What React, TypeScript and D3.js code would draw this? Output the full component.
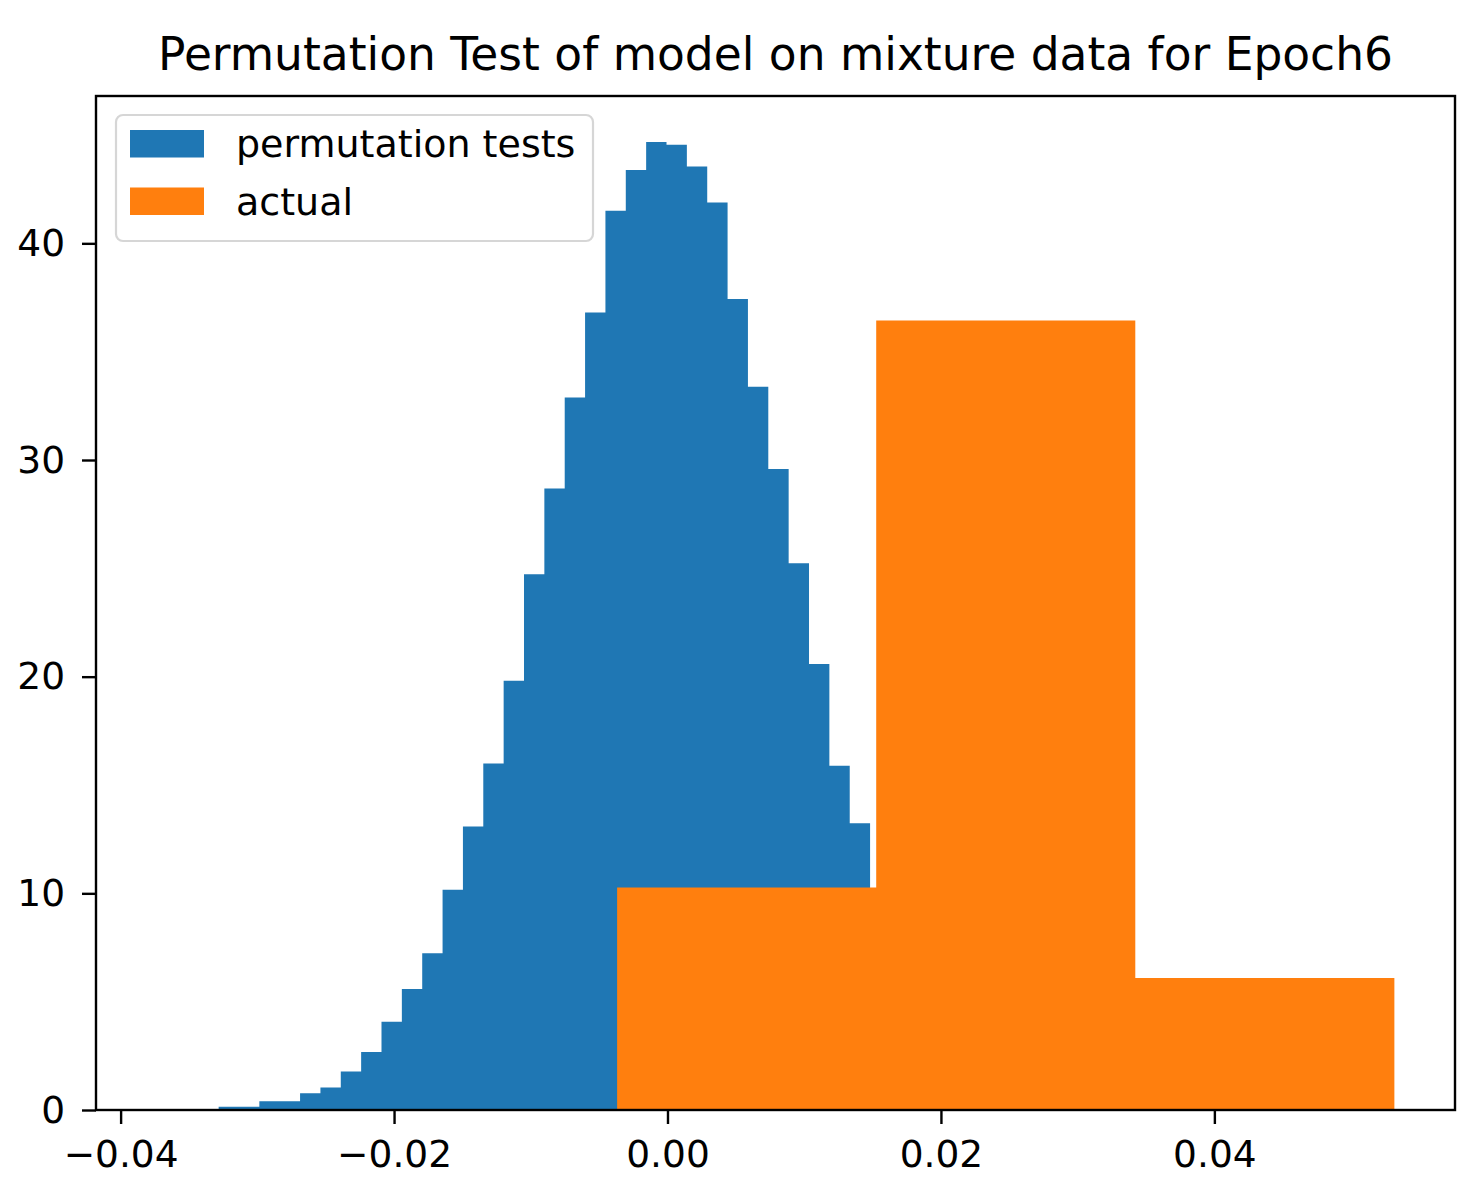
import React, { useEffect, useRef } from 'react';
import * as d3 from 'd3';

// histogram of the permutation test statistic (density)
const permBinStart = -0.03283;
const permBinWidth = 0.001489;
const permDensity = [
  0.15, 0.15, 0.4, 0.4, 0.77, 1.04, 1.78, 2.68, 4.07, 5.58, 7.24, 10.17,
  13.09, 15.99, 19.81, 24.73, 28.69, 32.88, 36.81, 41.5, 43.39, 44.68,
  44.55, 43.55, 41.88, 37.43, 33.38, 29.58, 25.24, 20.58, 15.89, 13.23,
];

// histogram of the actual values (density)
const actualBinStart = -0.003684;
const actualBinWidth = 0.01895;
const actualDensity = [10.27, 36.44, 6.09];

const xDomain = [-0.0418, 0.0576];
const yDomain = [0, 46.8];
const xTicks = [-0.04, -0.02, 0.0, 0.02, 0.04];
const yTicks = [0, 10, 20, 30, 40];

const seriesNames = ['permutation tests', 'actual'];
const seriesColors = ['#1f77b4', '#ff7f0e'];

const titleText = 'Permutation Test of model on mixture data for Epoch6';

function toBins(start: number, width: number, values: number[]) {
  return values.map((v, i) => ({ x0: start + i * width, x1: start + (i + 1) * width, v }));
}

export default function App() {
  const node = useRef<HTMLDivElement>(null);

  useEffect(() => {
    document.body.style.margin = '0';
    const width = 1457;
    const height = 1179;
    const margin = { top: 96, right: 2, bottom: 69, left: 96 };
    const font = 'DejaVu Sans, sans-serif';

    d3.select(node.current).selectAll('*').remove();
    const svg = d3.select(node.current).append('svg')
      .attr('width', width)
      .attr('height', height)
      .style('display', 'block')
      .style('background', '#fff');

    const x = d3.scaleLinear().domain(xDomain).range([margin.left, width - margin.right]);
    const y = d3.scaleLinear().domain(yDomain).range([height - margin.bottom, margin.top]);

    const hists = [
      toBins(permBinStart, permBinWidth, permDensity),
      toBins(actualBinStart, actualBinWidth, actualDensity),
    ];

    // one stepped outline per histogram, so no seams between bars
    const area = d3.area<{ x: number; v: number }>()
      .x(d => x(d.x))
      .y0(y(0))
      .y1(d => y(d.v))
      .curve(d3.curveStepAfter);

    hists.forEach((bins, k) => {
      const pts = bins.map(b => ({ x: b.x0, v: b.v }));
      const last = bins[bins.length - 1];
      pts.push({ x: last.x1, v: last.v });
      svg.append('path')
        .attr('d', area(pts))
        .attr('fill', seriesColors[k]);
    });

    // frame
    svg.append('rect')
      .attr('x', margin.left)
      .attr('y', margin.top)
      .attr('width', width - margin.right - margin.left)
      .attr('height', height - margin.bottom - margin.top)
      .attr('fill', 'none')
      .attr('stroke', '#000')
      .attr('stroke-width', 2.4);

    const fmt = (d: number) => d3.format('.2f')(d).replace('-', '\u2212');

    const xAxis = d3.axisBottom(x).tickValues(xTicks).tickFormat(d => fmt(d as number))
      .tickSize(14).tickPadding(16);
    const gx = svg.append('g')
      .attr('transform', `translate(0, ${height - margin.bottom})`)
      .call(xAxis);

    const yAxis = d3.axisLeft(y).tickValues(yTicks).tickFormat(d3.format('d'))
      .tickSize(14).tickPadding(17);
    const gy = svg.append('g')
      .attr('transform', `translate(${margin.left}, 0)`)
      .call(yAxis);

    [gx, gy].forEach(g => {
      g.select('.domain').remove();
      g.selectAll('.tick line').attr('stroke', '#000').attr('stroke-width', 2.4);
      g.selectAll('.tick text')
        .attr('fill', '#000')
        .style('font-family', font)
        .style('font-size', '37.5px');
    });

    svg.append('text')
      .attr('x', (margin.left + width - margin.right) / 2)
      .attr('y', 70)
      .attr('text-anchor', 'middle')
      .style('font-family', font)
      .style('font-size', '45.5px')
      .attr('fill', '#000')
      .text(titleText);

    // legend
    const lg = svg.append('g').attr('transform', 'translate(116, 115)');
    lg.append('rect')
      .attr('width', 477)
      .attr('height', 126)
      .attr('rx', 7)
      .attr('fill', '#fff')
      .attr('fill-opacity', 0.8)
      .attr('stroke', '#d6d6d6')
      .attr('stroke-width', 2.2);

    seriesNames.forEach((name, i) => {
      const row = lg.append('g').attr('transform', `translate(0, ${15 + i * 57.5})`);
      row.append('rect')
        .attr('x', 14)
        .attr('width', 74)
        .attr('height', 27.5)
        .attr('fill', seriesColors[i]);
      row.append('text')
        .attr('x', 120)
        .attr('y', 14)
        .attr('dy', '0.35em')
        .style('font-family', font)
        .style('font-size', '38px')
        .attr('fill', '#000')
        .text(name);
    });
  }, []);

  return <div ref={node}></div>;
}
